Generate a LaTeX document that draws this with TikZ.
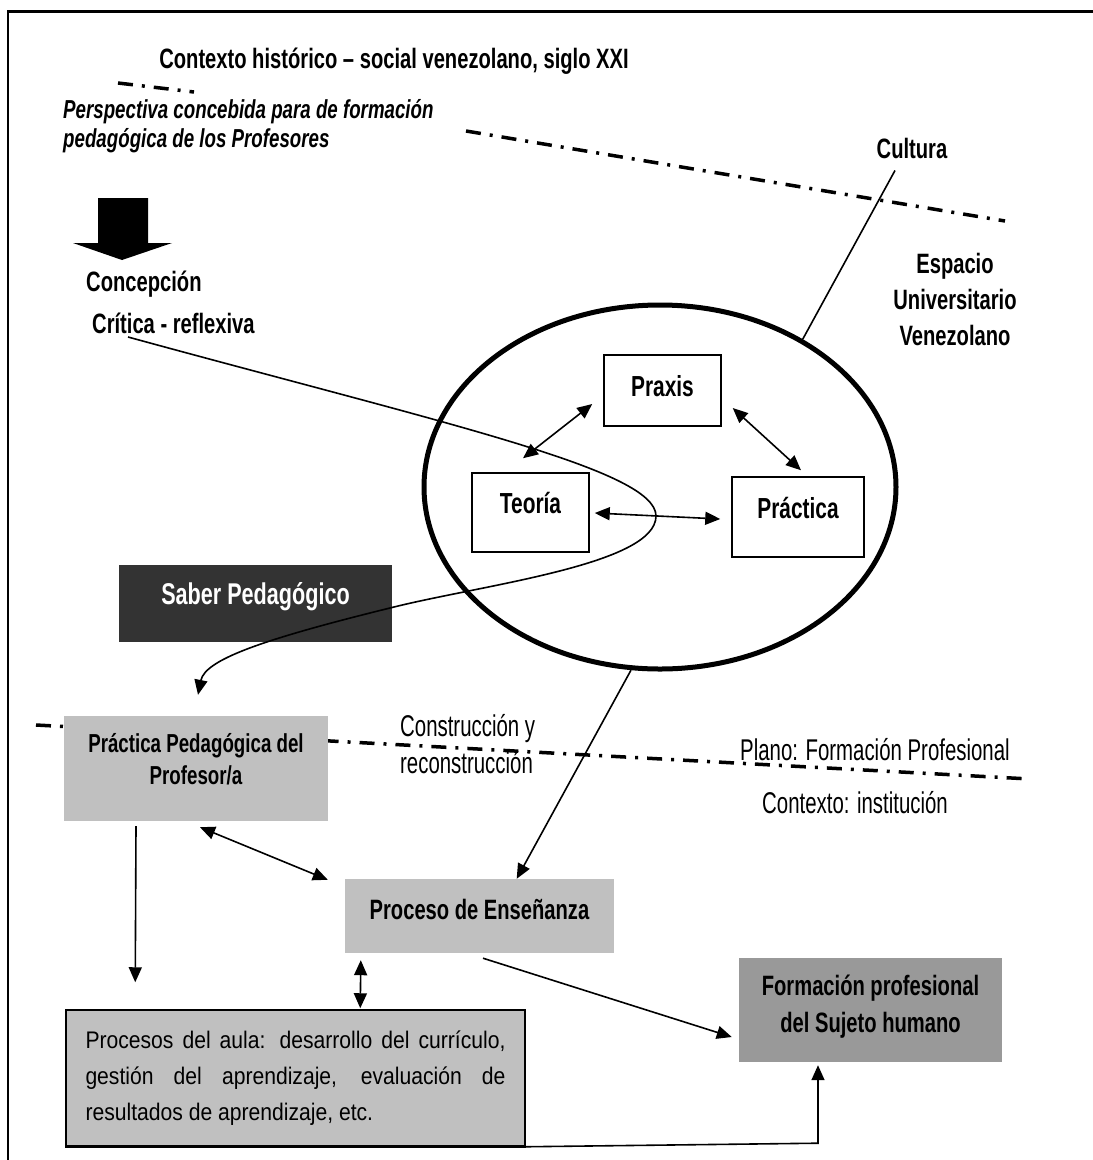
\documentclass[tikz,border=0pt]{standalone}
\usepackage{fontspec}
\setmainfont{Liberation Sans}
\newfontfamily\fb{Liberation Sans}[FakeStretch=0.72]
\newfontfamily\fr{Liberation Sans}[FakeStretch=0.68]
\newfontfamily\fa{Liberation Sans}[FakeStretch=0.88]
\usetikzlibrary{arrows.meta,shapes.geometric,calc}
\definecolor{boxgray}{RGB}{192,192,192}
\definecolor{fpgray}{RGB}{153,153,153}
\definecolor{sabgray}{RGB}{51,51,51}
\newcommand\myBF[2]{\fb\bfseries\fontsize{#1}{#2}\selectfont}
\newcommand\myRG[2]{\fr\fontsize{#1}{#2}\selectfont}
\newcommand\myAU[2]{\fa\fontsize{#1}{#2}\selectfont}
\begin{document}
\begin{tikzpicture}[x=1pt,y=-1pt,
  txt/.style={inner sep=0pt},
  wbox/.style={draw, line width=1.5pt, fill=white, inner sep=0pt, rectangle},
  gbox/.style={fill=boxgray, inner sep=0pt, rectangle},
  dd/.style={line width=3.5pt, dash pattern=on 15pt off 9pt on 3pt off 9pt},
  conn/.style={line width=1.6pt},
  dbl/.style={conn, {Triangle[length=15pt,width=13pt]}-{Triangle[length=15pt,width=13pt]}},
  arr/.style={conn, -{Triangle[length=15pt,width=13pt]}}]
\useasboundingbox (0,0) rectangle (1093,1160);
% frame
\draw[line width=2pt] (8,1160) -- (8,11);
\draw[line width=3pt] (7,11) -- (1093,11);
% dash-dot planes
\draw[dd] (118,83) -- (194,92);
\draw[dd] (466,131) -- (1005,221);
\draw[dd] (36,725) -- (1030,779);
% top texts
\node[txt, font=\myBF{28}{30}] (title) at (394,61) {Contexto histórico – social venezolano, siglo XXI};
\node[txt, anchor=west, align=left, font=\myBF{26}{29}\itshape] (persp) at (63,126) {Perspectiva concebida para de formación\\pedagógica de los Profesores};
\fill (98,198) -- (148,198) -- (148,243) -- (172,243) -- (122,260) -- (73,243) -- (98,243) -- cycle;
\node[txt, anchor=west, font=\myBF{28}{30}] (conc1) at (86,284) {Concepción};
\node[txt, anchor=west, font=\myBF{28}{30}] (conc2) at (92,323) {Crítica - reflexiva};
\node[txt, font=\myBF{28}{30}] (cul) at (912,148) {Cultura};
\node[txt, align=center, font=\myBF{28}{36}] (esp) at (955,299) {Espacio\\Universitario\\Venezolano};
% ellipse and inner boxes
\node[draw, ellipse, line width=5pt, minimum width=472pt, minimum height=364pt, inner sep=0pt] (ell) at (660,487) {};
\node[wbox, minimum width=117pt, minimum height=71pt, font=\myBF{29}{30}, text height=21pt, text depth=9pt] (prx) at (662.5,390.5) {Praxis};
\node[wbox, minimum width=117pt, minimum height=79pt, font=\myBF{29}{30}, text height=21pt, text depth=19pt] (teo) at (530.5,512.5) {Teoría};
\node[wbox, minimum width=132pt, minimum height=80pt, font=\myBF{29}{30}, text height=21pt, text depth=18pt] (prc) at (798,517) {Práctica};
% Saber box
\node[fill=sabgray, inner sep=0pt, minimum width=273pt, minimum height=77pt, text=white, font=\myBF{30}{30}, text height=21.5pt, text depth=19pt] (sab) at (255.5,603.5) {Saber Pedagógico};
% lower boxes
\node[gbox, minimum width=264pt, minimum height=105pt] (ppd) at (196,768.5) {};
\node[txt, align=center, font=\myBF{26}{32}] (ppdT) at ($(ppd.center)+(0,-9.5)$) {Práctica Pedagógica del\\Profesor/a};
\node[gbox, minimum width=269pt, minimum height=74pt, font=\myBF{28}{30}, text height=20pt, text depth=14pt] (pe) at (479.5,916) {Proceso de Enseñanza};
\node[fill=fpgray, inner sep=0pt, minimum width=263pt, minimum height=104pt] (fp) at (870.5,1010) {};
\node[txt, align=center, font=\myBF{28}{37}] (fpT) at ($(fp.center)+(0,-3.5)$) {Formación profesional\\del Sujeto humano};
\node[gbox, draw, line width=1.5pt, minimum width=459pt, minimum height=136pt] (aula) at (295.5,1078) {};
\draw[line width=3pt] (aula.south west) -- (aula.south east);
\node[txt, text width=420pt, align=justify, font=\myAU{24}{36}] (aulaT) at (aula.center) {Procesos del aula: desarrollo del currículo,\linebreak gestión del aprendizaje, evaluación de\linebreak resultados de aprendizaje, etc.};
% plain labels
\node[txt, anchor=west, align=left, font=\myRG{30}{37}] (cons) at (400,744.5) {Construcción y\\reconstrucción};
\node[txt, anchor=west, font=\myRG{30}{32}] (plano) at (740,750) {Plano: Formación Profesional};
\node[txt, anchor=west, font=\myRG{30}{32}] (ctx) at (762,803) {Contexto: institución};
% connectors
\draw[conn] ($(cul.south)+(-17,12)$) -- (ell.46);
\draw[dbl] ($(teo.north)+(-7.5,-14)$) -- ($(prx.west)+(-11,13.5)$);
\draw[dbl] ($(prx.east)+(11,17.5)$) -- ($(prc.north)+(3,-6)$);
\draw[dbl] ($(teo.east)+(5,0.5)$) -- ($(prc.west)+(-11,2)$);
\draw[arr] ($(conc2.west)+(36,14)$) .. controls (450,425) and (656,470) .. (656,516)
  .. controls (656,565) and (480,585) .. (390,608)
  .. controls (260,640) and (205,660) .. ($(ppd.north)+(2,-21)$);
\draw[arr] (ell.261) -- (pe.45);
\draw[arr] ($(ppd.south)+(-60,5)$) -- ($(aula.north west)+(70,-27)$);
\draw[dbl] ($(ppd.south)+(4,6)$) -- ($(pe.north west)+(-17,1)$);
\draw[dbl] ($(pe.south west)+(16,7)$) -- ($(aula.north west)+(295,-1)$);
\draw[arr] ($(pe.south)+(3.5,5)$) -- ($(fp.west)+(-7,27)$);
\draw[arr] (aula.south east) -- ($(fp.south)+(-52.5,81)$) -- ($(fp.south)+(-52.5,3)$);
\end{tikzpicture}
\end{document}
